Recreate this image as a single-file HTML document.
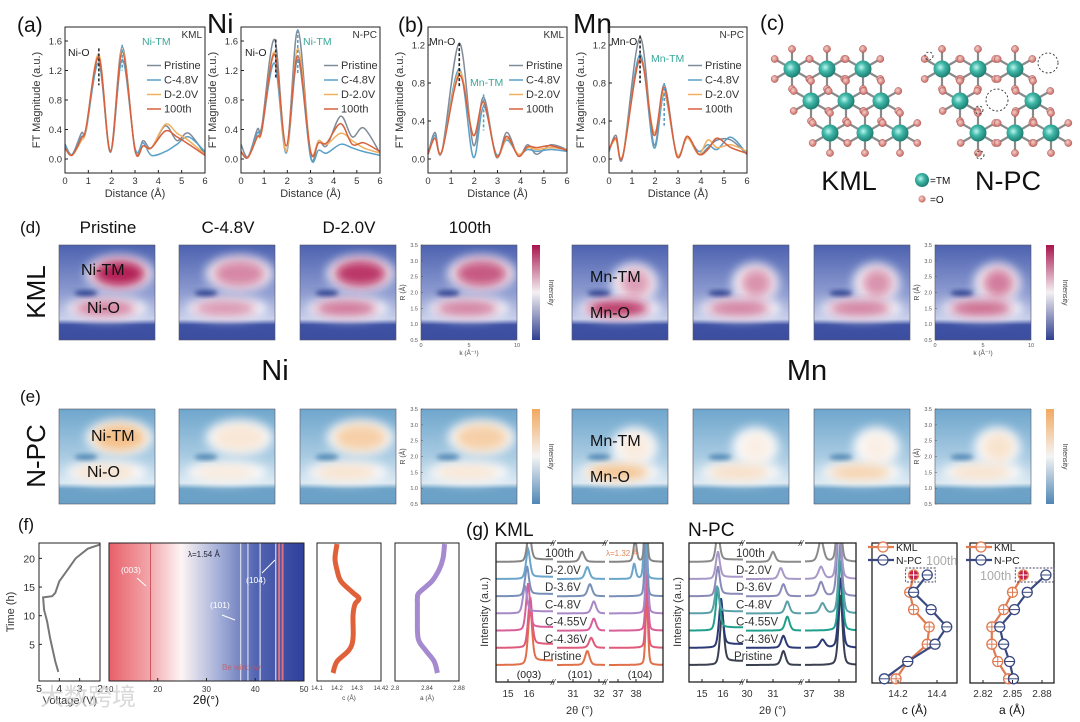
<!DOCTYPE html>
<html><head><meta charset="utf-8">
<style>
html,body{margin:0;padding:0;background:#fff;}
svg{display:block;font-family:"Liberation Sans","Noto Sans CJK SC",sans-serif;}
</style></head>
<body>
<svg id="fig" width="1080" height="722" viewBox="0 0 1080 722" xmlns="http://www.w3.org/2000/svg">
<defs>
<filter id="blur4" x="-50%" y="-50%" width="200%" height="200%"><feGaussianBlur stdDeviation="5"/></filter>
<filter id="blur2" x="-50%" y="-50%" width="200%" height="200%"><feGaussianBlur stdDeviation="2.5"/></filter>
<radialGradient id="tmGrad" cx="0.4" cy="0.4" r="0.6"><stop offset="0" stop-color="#bff5ef"/><stop offset="0.45" stop-color="#3fb8a8"/><stop offset="1" stop-color="#1f7f74"/></radialGradient>
<radialGradient id="oGrad" cx="0.4" cy="0.4" r="0.6"><stop offset="0" stop-color="#f6d0cc"/><stop offset="1" stop-color="#c86a64"/></radialGradient>
<linearGradient id="kmlBg" x1="0" y1="0" x2="0" y2="1"><stop offset="0" stop-color="#4d62b0"/><stop offset="0.5" stop-color="#8d9bd0"/><stop offset="0.78" stop-color="#c8cfea"/><stop offset="0.84" stop-color="#3f52a4"/><stop offset="1" stop-color="#3b4d9f"/></linearGradient>
<linearGradient id="npcBg" x1="0" y1="0" x2="0" y2="1"><stop offset="0" stop-color="#6fa6cc"/><stop offset="0.5" stop-color="#a9cbe2"/><stop offset="0.78" stop-color="#dbe9f2"/><stop offset="0.84" stop-color="#6ea3c8"/><stop offset="1" stop-color="#6aa0c6"/></linearGradient>
<linearGradient id="kmlBar" x1="0" y1="0" x2="0" y2="1"><stop offset="0" stop-color="#a8144e"/><stop offset="0.5" stop-color="#f4f0f2"/><stop offset="1" stop-color="#2f3f8f"/></linearGradient>
<linearGradient id="npcBar" x1="0" y1="0" x2="0" y2="1"><stop offset="0" stop-color="#f2a860"/><stop offset="0.5" stop-color="#f4f4f4"/><stop offset="1" stop-color="#4f86b4"/></linearGradient>
<linearGradient id="xrdMap" x1="0" y1="0" x2="1" y2="0"><stop offset="0" stop-color="#e8606a"/><stop offset="0.2" stop-color="#f2a4a8"/><stop offset="0.37" stop-color="#fdf4f4"/><stop offset="0.55" stop-color="#aab4da"/><stop offset="0.75" stop-color="#5466b2"/><stop offset="1" stop-color="#2f3f9c"/></linearGradient>
</defs>
<g id="root"></g>
</svg>
<script>
// ---------- FT-EXAFS data ----------
const ftSeries = ['Pristine','C-4.8V','D-2.0V','100th'];
const ftColors = ['#7f8b98','#5aa0c8','#f0b060','#d8603e'];
const niDist = [0,0.3,0.7,0.9,1.45,1.95,2.45,3.0,3.35,3.7,4.3,4.8,5.3,6.0];
const niKmlPristine = [0.2,0.06,0.35,0.40,1.38,0.10,1.52,0.12,0.25,0.15,0.45,0.25,0.35,0.06];
const niKmlC48 = [0.2,0.06,0.30,0.38,1.30,0.09,1.35,0.15,0.22,0.05,0.10,0.20,0.30,0.10];
const niKmlD20 = [0.15,0.05,0.25,0.40,1.42,0.10,1.48,0.12,0.18,0.15,0.47,0.35,0.25,0.06];
const niKml100 = [0.15,0.05,0.28,0.42,1.38,0.10,1.45,0.12,0.18,0.15,0.38,0.30,0.20,0.05];
const niNpcPristine = [0.2,0.03,0.40,0.45,1.62,0.10,1.75,0.05,0.25,0.18,0.58,0.30,0.42,0.08];
const niNpcC48 = [0.1,0.02,0.35,0.40,1.30,0.08,1.35,0.03,0.12,0.08,0.20,0.15,0.10,0.05];
const niNpcD20 = [0.1,0.02,0.30,0.38,1.45,0.10,1.50,0.12,0.25,0.20,0.35,0.25,0.15,0.08];
const niNpc100 = [0.1,0.02,0.30,0.40,1.42,0.18,1.40,0.10,0.22,0.22,0.48,0.20,0.22,0.10];
const mnDist = [0,0.3,0.6,1.35,1.95,2.4,2.95,3.4,3.9,4.3,4.7,5.3,6.0];
const mnKmlPristine = [0.05,0.28,0.08,1.22,0.15,0.65,0.02,0.28,0.03,0.15,0.05,0.15,0.10];
const mnKmlC48 = [0.05,0.25,0.08,0.95,0.02,0.55,0.05,0.20,0.05,0.10,0.08,0.10,0.08];
const mnKmlD20 = [0.05,0.22,0.08,0.92,0.25,0.60,0.03,0.22,0.05,0.12,0.10,0.12,0.10];
const mnKml100 = [0.05,0.22,0.08,0.88,0.25,0.60,0.03,0.24,0.03,0.13,0.12,0.14,0.09];
const mnNpcPristine = [0.08,0.25,0.02,1.28,0.15,0.78,0.03,0.24,0.05,0.12,0.20,0.20,0.05];
const mnNpcC48 = [0.08,0.22,0.03,1.10,0.12,0.68,0.05,0.22,0.08,0.15,0.10,0.23,0.05];
const mnNpcD20 = [0.10,0.20,0.04,1.05,0.28,0.70,0.05,0.22,0.05,0.20,0.12,0.15,0.08];
const mnNpc100 = [0.10,0.22,0.03,1.05,0.25,0.75,0.03,0.24,0.05,0.10,0.22,0.12,0.06];
const distTicks = [0,1,2,3,4,5,6];
const niMagTicks = [0.0,0.4,0.8,1.2,1.6];
const mnMagTicks = [0.0,0.4,0.8,1.2];
// ---------- heatmap intensities (O shell, TM shell) ----------
const mapTitles = ['Pristine','C-4.8V','D-2.0V','100th'];
const niKmlO = [0.55,0.45,0.6,0.55];
const niKmlTM = [0.95,0.5,0.85,0.7];
const niNpcO = [0.3,0.2,0.3,0.25];
const niNpcTM = [0.75,0.25,0.55,0.55];
const mnKmlO = [0.9,0.55,0.55,0.65];
const mnKmlTM = [0.4,0.45,0.45,0.55];
const mnNpcO = [0.7,0.35,0.5,0.3];
const mnNpcTM = [0.2,0.15,0.15,0.3];
// ---------- operando XRD (f) ----------
const chargeTime = [0.2,2,6,9,11,13.2,13.4,14,16,18,20,21.7,22.4];
const chargeVolt = [4.05,4.2,4.45,4.6,4.75,4.8,4.35,4.2,4.0,3.6,3.2,2.6,2.0];
const latTime = [0,2,4,6,10,12,13,14,16,18,20,22.5];
const latC = [14.18,14.2,14.26,14.28,14.28,14.29,14.31,14.28,14.22,14.2,14.19,14.2];
const latA = [2.853,2.849,2.838,2.829,2.828,2.828,2.828,2.830,2.846,2.855,2.860,2.862];
const mapWhiteLines = [37.0,38.5,41.0,44.2];
const mapRedLines = [18.5,44.9,45.6];
const twoThetaTicks = [10,20,30,40,50];
const voltTicks = [5,4,3,2];
const timeTicks = [5,10,15,20];
// ---------- ex-situ XRD (g) ----------
const xrdLabels = ['Pristine','C-4.36V','C-4.55V','C-4.8V','D-3.6V','D-2.0V','100th'];
const kmlColors = ['#e0704a','#e05a7a','#d8609a','#a888c8','#7890b8','#6aa6cc','#858585'];
const npcColors = ['#3a4050','#2c3a78','#20a08c','#5aa0a8','#8a8ab8','#a898c8','#8a8a8a'];
const kmlP003 = [16.05,16.05,15.95,15.8,15.9,15.95,16.0];
const kmlH003 = [55,48,44,26,28,28,30];
const kmlP101 = [31.55,31.7,31.8,31.8,31.65,31.55,31.35];
const kmlH101 = [14,10,12,12,12,12,10];
const kmlP104 = [38.6,38.6,38.6,38.6,38.55,38.5,38.55];
const kmlS104 = [0,0,0,0,0,15,22];
const npcP003 = [15.95,15.9,15.75,15.7,15.75,15.75,15.75];
const npcH003 = [50,46,40,26,28,26,28];
const npcP101 = [31.4,31.4,31.55,31.55,31.4,31.3,31.0];
const npcH101 = [14,12,14,12,12,11,10];
const npcP104 = [38.05,38.05,38.05,38.05,38.0,38.0,38.0];
const npcS104 = [0,8,0,10,14,12,22];
// ---------- lattice parameters ----------
const latLabels = ['100th','D-2.0V','D-3.6V','C-4.8V','C-4.55V','C-4.36V','Pristine'];
const cKml = [14.28,14.26,14.28,14.36,14.35,14.25,14.19];
const cNpc = [14.35,14.28,14.37,14.45,14.39,14.25,14.13];
const aKml = [2.861,2.850,2.841,2.829,2.829,2.835,2.846];
const aNpc = [2.884,2.865,2.852,2.837,2.841,2.847,2.851];
const cTicks = [14.2,14.4];
const aTicks = [2.82,2.85,2.88];

const NS='http://www.w3.org/2000/svg';
const root=document.getElementById('root');
function mk(tag,attrs,parent){const e=document.createElementNS(NS,tag);for(const k in attrs)e.setAttribute(k,attrs[k]);(parent||root).appendChild(e);return e;}
function txt(s,x,y,size,opts,parent){const o=Object.assign({x:x,y:y,'font-size':size,fill:'#111'},opts||{});const e=mk('text',o,parent);e.textContent=s;return e;}
function smooth(pts){let d='M'+pts[0][0]+','+pts[0][1];for(let i=0;i<pts.length-1;i++){const p0=pts[i-1]||pts[i],p1=pts[i],p2=pts[i+1],p3=pts[i+2]||p2;const c1x=p1[0]+(p2[0]-p0[0])/6,c1y=p1[1]+(p2[1]-p0[1])/6,c2x=p2[0]-(p3[0]-p1[0])/6,c2y=p2[1]-(p3[1]-p1[1])/6;d+=' C'+c1x.toFixed(1)+','+c1y.toFixed(1)+' '+c2x.toFixed(1)+','+c2y.toFixed(1)+' '+p2[0].toFixed(1)+','+p2[1].toFixed(1);}return d;}

let e;
e=txt('(a)',17,32,21);


e=txt('Ni',207,33,28);


e=txt('(b)',398,32,21);


e=txt('Mn',573,33,28);


e=txt('(c)',760,30,21);



// ---------- FT panels ----------
function ftPanel(cfg){
  const g=mk('g',{});
  
  
  const xS=v=>cfg.x0+(v/6)*(cfg.x1-cfg.x0);
  const yS=v=>cfg.yz-v*cfg.k;
  cfg.series.forEach((arr,si)=>{
    const pts=cfg.xs.map((x,i)=>[xS(x),yS(arr[i])]);
    const p=mk('path',{d:smooth(pts),fill:'none',stroke:ftColors[si],'stroke-width':1.5},g);
    
    
  });
  const fr=mk('rect',{x:cfg.x0,y:27,width:cfg.x1-cfg.x0,height:146,fill:'none',stroke:'#222','stroke-width':1},g);
  
  
  distTicks.forEach(t=>{
    mk('line',{x1:xS(t),x2:xS(t),y1:173,y2:170,stroke:'#222'},g);
    const tl=txt(String(t),xS(t),184,9.5,{'text-anchor':'middle',fill:'#333'},g);
    
    
  });
  cfg.ticks.forEach(t=>{
    mk('line',{x1:cfg.x0,x2:cfg.x0+3,y1:yS(t),y2:yS(t),stroke:'#222'},g);
    const tl=txt(t.toFixed(1),cfg.x0-3,yS(t)+3.5,9.5,{'text-anchor':'end',fill:'#333'},g);
    
    
  });
  const xt=txt('Distance (Å)',(cfg.x0+cfg.x1)/2,197,11,{'text-anchor':'middle',fill:'#333'},g);
  
  
  const yt=txt('FT Magnitude (a.u.)',0,0,11,{'text-anchor':'middle',fill:'#333',transform:'translate('+(cfg.x0-25)+',100) rotate(-90)'},g);
  
  
  const st=txt(cfg.sample,cfg.x1-3,38,10,{'text-anchor':'end',fill:'#333'},g);
  
  
  ftSeries.forEach((s,i)=>{
    const ly=cfg.ly+i*14.5;
    const ll=mk('line',{x1:cfg.lx,x2:cfg.lx+14,y1:ly-3.5,y2:ly-3.5,stroke:ftColors[i],'stroke-width':1.5},g);
    
    
    const lt=txt(s,cfg.lx+17,ly,11,{fill:'#333'},g);
    
    
  });
  cfg.marks.forEach(m=>{
    mk('line',{x1:xS(m.x),x2:xS(m.x),y1:yS(m.top),y2:yS(m.bot),stroke:m.c,'stroke-width':1.6,'stroke-dasharray':'3,2'},g);
  });
  const o=txt(cfg.oLabel,cfg.oX,cfg.oY,10.5,{fill:'#222'},g);
  
  
  const t=txt(cfg.tmLabel,cfg.tmX,cfg.tmY,10.5,{fill:'#3aa898'},g);
  
  
}
ftPanel({name:'ni-kml-ft-chart',x0:65,x1:205,yz:159,k:73.75,xs:niDist,series:[niKmlPristine,niKmlC48,niKmlD20,niKml100],ticks:niMagTicks,sample:'KML',lx:147,ly:69,oLabel:'Ni-O',oX:68,oY:56,tmLabel:'Ni-TM',tmX:142,tmY:45,marks:[{x:1.45,top:1.5,bot:1.0,c:'#333'},{x:2.45,top:1.55,bot:1.2,c:'#5aa0c8'}]});
ftPanel({name:'ni-npc-ft-chart',x0:241,x1:380,yz:159,k:73.75,xs:niDist,series:[niNpcPristine,niNpcC48,niNpcD20,niNpc100],ticks:niMagTicks,sample:'N-PC',lx:324,ly:69,oLabel:'Ni-O',oX:245,oY:56,tmLabel:'Ni-TM',tmX:303,tmY:45,marks:[{x:1.5,top:1.62,bot:1.1,c:'#333'},{x:2.45,top:1.75,bot:1.15,c:'#5aa0c8'}]});
ftPanel({name:'mn-kml-ft-chart',x0:428,x1:567,yz:159,k:95,xs:mnDist,series:[mnKmlPristine,mnKmlC48,mnKmlD20,mnKml100],ticks:mnMagTicks,sample:'KML',lx:509,ly:69,oLabel:'Mn-O',oX:429,oY:45,tmLabel:'Mn-TM',tmX:470,tmY:86,marks:[{x:1.35,top:1.22,bot:0.75,c:'#222'},{x:2.4,top:0.68,bot:0.3,c:'#5aa0c8'}]});
ftPanel({name:'mn-npc-ft-chart',x0:609,x1:747,yz:159,k:95,xs:mnDist,series:[mnNpcPristine,mnNpcC48,mnNpcD20,mnNpc100],ticks:mnMagTicks,sample:'N-PC',lx:688,ly:69,oLabel:'Mn-O',oX:611,oY:45,tmLabel:'Mn-TM',tmX:651,tmY:62,marks:[{x:1.35,top:1.3,bot:0.8,c:'#222'},{x:2.4,top:0.8,bot:0.35,c:'#5aa0c8'}]});

// ---------- (c) lattice ----------
function lattice(name,tms,vac){
  const g=mk('g',{});
  
  
  const ang=[-90,-30,30,90,150,210];
  const os=[];
  tms.forEach(p=>{ang.forEach(a=>{const r=20;os.push([p[0]+r*Math.cos(a*Math.PI/180),p[1]+r*Math.sin(a*Math.PI/180)]);mk('line',{x1:p[0],y1:p[1],x2:p[0]+r*Math.cos(a*Math.PI/180),y2:p[1]+r*Math.sin(a*Math.PI/180),stroke:'#8a8a8a','stroke-width':2.2},g);});});
  os.forEach(o=>{mk('circle',{cx:o[0],cy:o[1],r:3.6,fill:'url(#oGrad)',stroke:'#b05a55','stroke-width':0.5},g);});
  tms.forEach(p=>{const c=mk('circle',{cx:p[0],cy:p[1],r:8.5,fill:'url(#tmGrad)'},g);
    
    });
  vac.forEach(v=>{const c=mk('circle',{cx:v[0],cy:v[1],r:v[2],fill:'none',stroke:'#333','stroke-width':0.9,'stroke-dasharray':'2,2'},g);
    
    });
}
lattice('kml-structure',[[792,69],[827,69],[863,69],[811,101],[846,101],[881,101],[830,133],[865,133],[900,133]],[]);
lattice('npc-structure',[[942,69],[978,69],[1015,69],[960,101],[1033,101],[978,133],[1015,133],[1051,133]],[[1048,63,10],[997,100,11],[929,56,4],[979,110,4],[980,155,4]]);
e=txt('KML',849,190,27,{'text-anchor':'middle'});


e=txt('N-PC',1008,190,27,{'text-anchor':'middle'});


e=mk('circle',{cx:922,cy:180,r:7,fill:'url(#tmGrad)'});


e=txt('=TM',930,184,10);


e=mk('circle',{cx:922,cy:199,r:3.6,fill:'url(#oGrad)'});


e=txt('=O',930,203,10);



// ---------- heatmaps ----------
const hmX=[[59,179,300,421],[572,693,814,935]];
function heatRow(y0,isKml,rowName){
  const hcol=isKml?'#b0184e':'#f2ac62';
  const sets=isKml?[[niKmlO,niKmlTM],[mnKmlO,mnKmlTM]]:[[niNpcO,niNpcTM],[mnNpcO,mnNpcTM]];
  [0,1].forEach(el=>{
    hmX[el].forEach((x,i)=>{
      const w=96,h=95;
      const g=mk('g',{});
      
      
      const cid='clip'+rowName+el+i;
      const cp=mk('clipPath',{id:cid},g);
      mk('rect',{x:x,y:y0,width:w,height:h},cp);
      const inner=mk('g',{'clip-path':'url(#'+cid+')'},g);
      mk('rect',{x:x,y:y0,width:w,height:h,fill:isKml?'url(#kmlBg)':'url(#npcBg)'},inner);
      const kx=k=>x+k/10*w, Ry=R=>y0+h-(R-0.5)/3*h;
      const oI=sets[el][0][i], tI=sets[el][1][i];
      mk('ellipse',{cx:kx(5),cy:Ry(1.5),rx:w*0.42,ry:h*0.12,fill:'#fbfbfd',filter:'url(#blur4)'},inner);
      if(el===0){mk('ellipse',{cx:kx(6.3),cy:Ry(2.6),rx:w*0.35,ry:h*0.19,fill:'#fbfbfd',filter:'url(#blur4)'},inner);}
      else{mk('ellipse',{cx:kx(6.5),cy:Ry(2.3),rx:w*0.24,ry:h*0.21,fill:'#fbfbfd',filter:'url(#blur4)'},inner);}
      mk('ellipse',{cx:kx(2.8),cy:Ry(1.98),rx:w*0.12,ry:h*0.03,fill:isKml?'#2f4290':'#4f86b4',filter:'url(#blur2)'},inner);
      const m1=mk('ellipse',{cx:kx(4.8),cy:Ry(1.5),rx:w*0.32,ry:h*0.08,fill:hcol,opacity:oI,filter:'url(#blur4)'},inner);
      
      
      const m2=el===0?mk('ellipse',{cx:kx(6.3),cy:Ry(2.6),rx:w*0.27,ry:h*0.14,fill:hcol,opacity:tI,filter:'url(#blur4)'},inner):mk('ellipse',{cx:kx(6.6),cy:Ry(2.3),rx:w*0.16,ry:h*0.15,fill:hcol,opacity:tI,filter:'url(#blur4)'},inner);
      
      
      mk('rect',{x:x,y:y0,width:w,height:h,fill:'none',stroke:'#556','stroke-width':0.6},g);
      if(i===0){
        const a=el?'Mn':'Ni';
        const l1=txt(a+'-TM',x+(el?18:(isKml?22:32)),y0+(el?37:(isKml?30:32)),16,{},g);
        
        
        const l2=txt(a+'-O',x+(el?18:28),y0+(el?73:68),16,{},g);
        
        
      }
      if(i===3){
        [0.5,1.0,1.5,2.0,2.5,3.0,3.5].forEach(r=>{txt(r.toFixed(1),x-3,Ry(r)+2,5.5,{'text-anchor':'end',fill:'#555'},g);mk('line',{x1:x,x2:x+2,y1:Ry(r),y2:Ry(r),stroke:'#555','stroke-width':0.5},g);});
        const rt=txt('R (Å)',0,0,7,{'text-anchor':'middle',fill:'#444',transform:'translate('+(x-16)+','+(y0+h/2)+') rotate(-90)'},g);
        
        
        if(isKml){[0,5,10].forEach(k=>txt(String(k),kx(k),y0+h+7,5.5,{'text-anchor':'middle',fill:'#555'},g));
          const kt=txt('k (Å⁻¹)',x+w/2,y0+h+15,6.5,{'text-anchor':'middle',fill:'#444'},g);
          
          }
        const cb=mk('rect',{x:x+w+15,y:y0,width:8,height:h,fill:isKml?'url(#kmlBar)':'url(#npcBar)'},g);
        
        
        const it=txt('Intensity',0,0,7,{'text-anchor':'middle',fill:'#444',transform:'translate('+(x+w+32)+','+(y0+h/2)+') rotate(90)'},g);
        
        
      }
    });
  });
}
heatRow(245,true,'kml');
heatRow(409,false,'npc');
e=txt('(d)',20,233,17);


[108,228,349,470].forEach((cx,i)=>{const t=txt(mapTitles[i],cx,233,17,{'text-anchor':'middle'});
  
  });
e=txt('KML',0,0,26,{'text-anchor':'middle',transform:'translate(45,292) rotate(-90)'});


e=txt('(e)',20,402,17);


e=txt('N-PC',0,0,26,{'text-anchor':'middle',transform:'translate(45,456) rotate(-90)'});


e=txt('Ni',275,380,29,{'text-anchor':'middle'});


e=txt('Mn',807,380,29,{'text-anchor':'middle'});



// ---------- (f) ----------
e=txt('(f)',18,530,17);


const fTop=543,fBot=681;
const tY=t=>673-t*5.73;
(function(){
  const g=mk('g',{});
  
  
  const vX=v=>39+(5-v)*20.33;
  const pts=chargeTime.map((t,i)=>[vX(chargeVolt[i]),tY(t)]);
  const p=mk('path',{d:'M'+pts.map(q=>q[0].toFixed(1)+','+q[1].toFixed(1)).join(' L'),fill:'none',stroke:'#777','stroke-width':2},g);
  
  
  mk('rect',{x:39,y:fTop,width:61,height:fBot-fTop,fill:'none',stroke:'#222'},g);
  voltTicks.forEach(v=>{txt(String(v),vX(v),692,10.5,{'text-anchor':'middle',fill:'#333'},g);mk('line',{x1:vX(v),x2:vX(v),y1:fBot,y2:fBot-3,stroke:'#222'},g);});
  timeTicks.forEach(t=>{txt(String(t),35,tY(t)+4,10.5,{'text-anchor':'end',fill:'#333'},g);mk('line',{x1:39,x2:42,y1:tY(t),y2:tY(t),stroke:'#222'},g);});
  const xt=txt('Voltage (V)',70,704,11,{'text-anchor':'middle',fill:'#333'},g);
  
  
  const yt=txt('Time (h)',0,0,11,{'text-anchor':'middle',fill:'#333',transform:'translate(14,612) rotate(-90)'},g);
  
  
})();
(function(){
  const g=mk('g',{});
  
  
  const xS=v=>109+(v-10)*4.875;
  mk('rect',{x:109,y:fTop,width:195,height:fBot-fTop,fill:'url(#xrdMap)'},g);
  mapWhiteLines.forEach(v=>{const l=mk('line',{x1:xS(v),x2:xS(v),y1:fTop,y2:fBot,stroke:'#e8ecf8','stroke-width':1.3,opacity:0.8},g);
    
    });
  mapRedLines.forEach(v=>{const l=mk('line',{x1:xS(v),x2:xS(v),y1:fTop,y2:fBot,stroke:v<30?'#c04050':'#e07080','stroke-width':v<30?0.8:2},g);
    
    });
  mk('rect',{x:109,y:fTop,width:195,height:fBot-fTop,fill:'none',stroke:'#222'},g);
  twoThetaTicks.forEach(v=>{txt(String(v),xS(v),692,8,{'text-anchor':'middle',fill:'#333'},g);mk('line',{x1:xS(v),x2:xS(v),y1:fBot,y2:fBot-3,stroke:'#222'},g);});
  const xt=txt('2θ(°)',206,704,12,{'text-anchor':'middle'},g);
  
  
  txt('λ=1.54 Å',188,557,8,{fill:'#223'},g);
  txt('(003)',121,573,8.5,{fill:'#fff'},g);
  txt('(101)',210,608,8.5,{fill:'#fff'},g);
  txt('(104)',246,583,8.5,{fill:'#fff'},g);
  mk('line',{x1:137,y1:578,x2:146,y2:586,stroke:'#fff'},g);
  mk('line',{x1:222,y1:615,x2:235,y2:620,stroke:'#fff'},g);
  mk('line',{x1:262,y1:573,x2:275,y2:560,stroke:'#fff'},g);
  txt('Be window',222,670,8,{fill:'#d05050',opacity:0.7},g);
})();
function latPanel(name,x0,x1,vals,lo,hi,color,ticks,label){
  const g=mk('g',{});
  
  
  const xS=v=>x0+(v-lo)/(hi-lo)*(x1-x0);
  const pts=latTime.map((t,i)=>[xS(vals[i]),tY(t)]);
  const p=mk('path',{d:smooth(pts),fill:'none',stroke:color,'stroke-width':5},g);
  
  
  mk('rect',{x:x0,y:fTop,width:x1-x0,height:fBot-fTop,fill:'none',stroke:'#222'},g);
  ticks.forEach(v=>{txt(v.toFixed(2).replace(/0$/,''),xS(v),690,6,{'text-anchor':'middle',fill:'#444'},g);});
  txt(label,(x0+x1)/2,700,6.5,{'text-anchor':'middle',fill:'#444'},g);
}
latPanel('c-vs-time-chart',317,381,latC,14.1,14.42,'#e0603a',[14.1,14.2,14.3,14.42],'c (Å)');
latPanel('a-vs-time-chart',395,459,latA,2.80,2.88,'#a58ad0',[2.80,2.84,2.88],'a (Å)');

// ---------- (g) ----------
e=txt('(g) KML',466,536,19);


e=txt('N-PC',688,536,19);


function xrdPanel(cfg){
  const g=mk('g',{});
  
  
  const top=543,bot=682;
  const cid='xc'+cfg.name;
  const cp=mk('clipPath',{id:cid},g);
  mk('rect',{x:cfg.x0,y:top,width:cfg.x1-cfg.x0,height:bot-top},cp);
  const inner=mk('g',{'clip-path':'url(#'+cid+')'},g);
  cfg.labels.forEach((lab,i)=>{
    const base=665-i*17.2;
    cfg.segs.forEach((s,si)=>{
      const pos=cfg.pos[si][i], hh=cfg.hts[si][i], sh=si===2?cfg.sh[i]:0;
      const pts=[];
      for(let px=s.sx0;px<=s.sx1;px+=0.5){
        const v=s.a+(px-s.px0)/s.k;
        const w=si===0?0.10:(si===1?0.09:0.07);
        const z=(v-pos)/w;
        let y=hh*(0.6*Math.exp(-z*z/2)+0.4/(1+z*z));
        if(sh){const z2=(v-(pos-0.6))/0.09;y+=sh*(0.6*Math.exp(-z2*z2/2)+0.4/(1+z2*z2));}
        if(si===0&&v>pos)y+=hh*0.08;
        pts.push([px,base-y]);
      }
      const p=mk('path',{d:'M'+pts.map(q=>q[0]+','+q[1].toFixed(1)).join(' L'),fill:'none',stroke:cfg.colors[i],'stroke-width':2},inner);
      
      
    });
    const t=txt(lab,cfg.lx+(i===0?-2:0),base-5,11.5,{fill:'#333'},g);
    
    
  });
  mk('rect',{x:cfg.x0,y:top,width:cfg.x1-cfg.x0,height:bot-top,fill:'none',stroke:'#222','stroke-width':1.3},g);
  cfg.segs.forEach((s,si)=>{
    s.ticks.forEach(v=>{const x=s.px0+(v-s.a)*s.k;txt(String(v),x,697,10,{'text-anchor':'middle',fill:'#333'},g);mk('line',{x1:x,x2:x,y1:bot,y2:bot-3,stroke:'#222'},g);});
    if(si>0){[top,bot].forEach(yy=>{mk('rect',{x:s.sx0-3,y:yy-3,width:3,height:6,fill:'#fff'},g);txt('//',s.sx0-4,yy+3,8,{'text-anchor':'middle','font-style':'italic',fill:'#222'},g);});}
  });
  const xt=txt('2θ (°)',(cfg.x0+cfg.x1)/2,714,11,{'text-anchor':'middle',fill:'#333'},g);
  
  
  const yt=txt('Intensity (a.u.)',0,0,11,{'text-anchor':'middle',fill:'#333',transform:'translate('+(cfg.x0-8)+',612) rotate(-90)'},g);
  
  
}
xrdPanel({name:'kml-xrd-chart',x0:496,x1:663,labels:xrdLabels,colors:kmlColors,lx:545,
  pos:[kmlP003,kmlP101,kmlP104],hts:[kmlH003,kmlH101,kmlP104.map(()=>70)],sh:kmlS104,
  segs:[{a:15,px0:508,k:21,sx0:496,sx1:553,ticks:[15,16]},{a:31,px0:573,k:26,sx0:557,sx1:605,ticks:[31,32]},{a:37,px0:618,k:18,sx0:609,sx1:663,ticks:[37,38]}]});
xrdPanel({name:'npc-xrd-chart',x0:689,x1:856,labels:xrdLabels,colors:npcColors,lx:736,
  pos:[npcP003,npcP101,npcP104],hts:[npcH003,npcH101,npcP104.map(()=>70)],sh:npcS104,
  segs:[{a:15,px0:702,k:21,sx0:689,sx1:743,ticks:[15,16]},{a:30,px0:747,k:26,sx0:746,sx1:801,ticks:[30,31]},{a:37,px0:809,k:30,sx0:805,sx1:856,ticks:[37,38]}]});
e=txt('λ=1.32 Å',606,556,8,{fill:'#e08a5a'});


[['(003)',529],['(101)',580],['(104)',640]].forEach(a=>{const t=txt(a[0],a[1],678,10.5,{'text-anchor':'middle',fill:'#222'});
  
  });

// ---------- lattice parameter charts ----------
function paramPanel(cfg){
  const g=mk('g',{});
  
  
  const top=543,bot=683;
  const xS=v=>cfg.px0+(v-cfg.v0)*cfg.k;
  const yRow=i=>575+i*17.3;
  mk('rect',{x:cfg.x0,y:top,width:cfg.x1-cfg.x0,height:bot-top,fill:'none',stroke:'#222','stroke-width':1.3},g);
  [[cfg.kml,'#e07a50','kml'],[cfg.npc,'#3a4a80','npc']].forEach(s=>{
    const vals=s[0];
    const d='M'+vals.map((v,i)=>xS(v).toFixed(1)+','+yRow(i).toFixed(1)).join(' L');
    const p=mk('path',{d:d,fill:'none',stroke:s[1],'stroke-width':2.2},g);
    
    
    vals.forEach((v,i)=>{
      const cx=xS(v),cy=yRow(i);
      const c=mk('circle',{cx:cx,cy:cy,r:5,fill:i===0?(s[2]==='kml'?'#c0204a':'#fff'):'#fff',stroke:s[1],'stroke-width':1.3},g);
      
      
      mk('line',{x1:cx-5,x2:cx+5,y1:cy,y2:cy,stroke:i===0&&s[2]==='kml'?'#fff':s[1],'stroke-width':1},g);
      if(s[2]==='kml')mk('line',{x1:cx,x2:cx,y1:cy-5,y2:cy+5,stroke:i===0?'#fff':s[1],'stroke-width':1},g);
    });
  });
  const bx=Math.min(xS(cfg.kml[0]),xS(cfg.npc[0]))-8, bw=Math.abs(xS(cfg.kml[0])-xS(cfg.npc[0]))+16;
  mk('rect',{x:bx,y:568,width:bw,height:14,fill:'none',stroke:'#446','stroke-width':0.9,'stroke-dasharray':'2,1.5'},g);
  cfg.ticks.forEach(v=>{txt(String(v),xS(v),697,10,{'text-anchor':'middle',fill:'#333'},g);mk('line',{x1:xS(v),x2:xS(v),y1:bot,y2:bot-3,stroke:'#222'},g);});
  const xt=txt(cfg.title,(cfg.x0+cfg.x1)/2,714,12,{'text-anchor':'middle'},g);
  
  
  [['KML','#e07a50',551],['N-PC','#3a4a80',564]].forEach(l=>{
    mk('line',{x1:cfg.x0-4,x2:cfg.x0+22,y1:l[2]-4,y2:l[2]-4,stroke:l[1],'stroke-width':2.2},g);
    mk('circle',{cx:cfg.x0+11,cy:l[2]-4,r:5,fill:'#fff',stroke:l[1],'stroke-width':1.3},g);
    mk('line',{x1:cfg.x0+6,x2:cfg.x0+16,y1:l[2]-4,y2:l[2]-4,stroke:l[1],'stroke-width':1},g);
    const t=txt(l[0],cfg.x0+24,l[2],10.5,{fill:'#222'},g);
    
    
  });
  const h=txt('100th',cfg.hx,cfg.hy,12.5,{fill:'#aaa'},g);
  
  
}
paramPanel({name:'c-parameter-chart',x0:872,x1:957,px0:898,v0:14.2,k:195,kml:cKml,npc:cNpc,ticks:cTicks,title:'c (Å)',hx:926,hy:565});
paramPanel({name:'a-parameter-chart',x0:970,x1:1054,px0:983,v0:2.82,k:983,kml:aKml,npc:aNpc,ticks:aTicks,title:'a (Å)',hx:980,hy:580});

e=txt('大数跨境',40,705,24,{fill:'#cfcfcf',opacity:0.8});


</script>
</body></html>
